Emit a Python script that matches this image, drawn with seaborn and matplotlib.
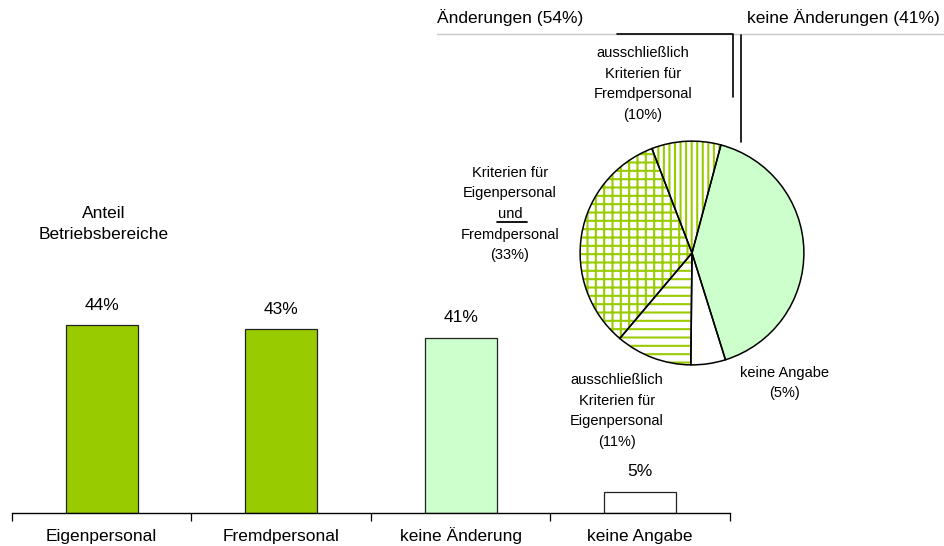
import matplotlib
matplotlib.use("Agg")
import matplotlib.pyplot as plt
from matplotlib.lines import Line2D
import seaborn as sns

# bar data
bar_cats = ["Eigenpersonal", "Fremdpersonal", "keine Änderung", "keine Angabe"]
bar_vals = [44, 43, 41, 5]
bar_colors = ["#99cc00", "#99cc00", "#ccffcc", "#ffffff"]

# pie data (clockwise from the top right)
pie_labels = ["keine Änderungen", "keine Angabe", "ausschließlich Eigenpersonal",
              "Eigen- und Fremdpersonal", "ausschließlich Fremdpersonal"]
pie_vals = [41, 5, 11, 33, 10]
pie_faces = ["#ccffcc", "#ffffff", "#ffffff", "#ffffff", "#ffffff"]
pie_hatches = [None, None, "--", "++", "|||"]

sns.set_style("ticks")
plt.rcParams["font.family"] = ["Liberation Sans", "DejaVu Sans"]
plt.rcParams["text.color"] = "black"
plt.rcParams["xtick.color"] = "black"
plt.rcParams["xtick.labelcolor"] = "black"
plt.rcParams["hatch.linewidth"] = 1.5

W, H = 944, 546
fig = plt.figure(figsize=(W / 100, H / 100), dpi=100)


def px(x, y):
    return x / W, 1 - y / H


# bar chart
ax = fig.add_axes([12 / W, 33 / H, 718 / W, 427 / H])
sns.barplot(x=bar_cats, y=bar_vals, hue=bar_cats, palette=bar_colors, legend=False,
            saturation=1, width=0.4, edgecolor="#222222", linewidth=0.9, ax=ax)
for c in ax.containers:
    ax.bar_label(c, labels=[f"{int(v)}%" for v in c.datavalues], padding=9, fontsize=12.5)
ax.set_ylim(0, 100)
ax.set_xlim(-0.5, 3.5)
sns.despine(ax=ax, left=True)
ax.set_yticks([])
ax.set_xticks(range(4))
ax.set_xticklabels(bar_cats, fontsize=12.5, va="baseline")
ax.tick_params(axis="x", which="major", length=0, pad=20.5)
ax.set_xticks([-0.5, 0.5, 1.5, 2.5, 3.5], minor=True)
ax.tick_params(axis="x", which="minor", length=6, width=0.9, color="black")
ax.spines["bottom"].set_color("black")
ax.spines["bottom"].set_linewidth(1.0)
ax.set_xlabel("")
ax.set_ylabel("")

fig.text(*px(104, 224), "Anteil\nBetriebsbereiche", fontsize=12.5, va="center", ha="center",
         linespacing=1.5)

# pie chart
pax = fig.add_axes([579 / W, (H - 366) / H, 226 / W, 226 / H])
wedges, _ = pax.pie(pie_vals, colors=pie_faces, startangle=75, counterclock=False,
                    wedgeprops=dict(edgecolor="#99cc00", linewidth=0))
for w, h in zip(wedges, pie_hatches):
    if h:
        w.set_hatch(h)
pax.pie(pie_vals, colors=["none"] * 5, startangle=75, counterclock=False,
        wedgeprops=dict(edgecolor="black", linewidth=1.1))
pax.set_xlim(-1.01, 1.01)
pax.set_ylim(-1.01, 1.01)
pax.set_aspect("equal")

fs = 10.5
ls = 1.6
fig.text(*px(643, 84), "ausschließlich\nKriterien für\nFremdpersonal\n(10%)", fontsize=fs,
         ha="center", va="center", linespacing=ls)
fig.text(*px(510, 214), "Kriterien für\nEigenpersonal\nund\nFremdpersonal\n(33%)", fontsize=fs,
         ha="center", va="center", linespacing=ls)
fig.text(*px(617, 411), "ausschließlich\nKriterien für\nEigenpersonal\n(11%)", fontsize=fs,
         ha="center", va="center", linespacing=ls)
fig.text(*px(785, 383), "keine Angabe\n(5%)", fontsize=fs,
         ha="center", va="center", linespacing=ls)

# underline "und"
fig.add_artist(Line2D([497 / W, 527 / W], [1 - 222 / H, 1 - 222 / H], color="black", lw=1.3))

# header
fig.text(*px(437, 18), "Änderungen (54%)", fontsize=12.5, ha="left", va="center")
fig.text(*px(747, 18), "keine Änderungen (41%)", fontsize=12.5, ha="left", va="center")
fig.add_artist(Line2D([437 / W, 1], [1 - 34 / H, 1 - 34 / H], color="#c8c8c8", lw=1))
fig.add_artist(Line2D([617 / W, 733 / W, 733 / W], [1 - 34 / H, 1 - 34 / H, 1 - 97 / H],
                      color="black", lw=1.2))
fig.add_artist(Line2D([741 / W, 741 / W], [1 - 35 / H, 1 - 142 / H], color="black", lw=1.2))

fig.savefig("out.png", dpi=100, facecolor="white")
